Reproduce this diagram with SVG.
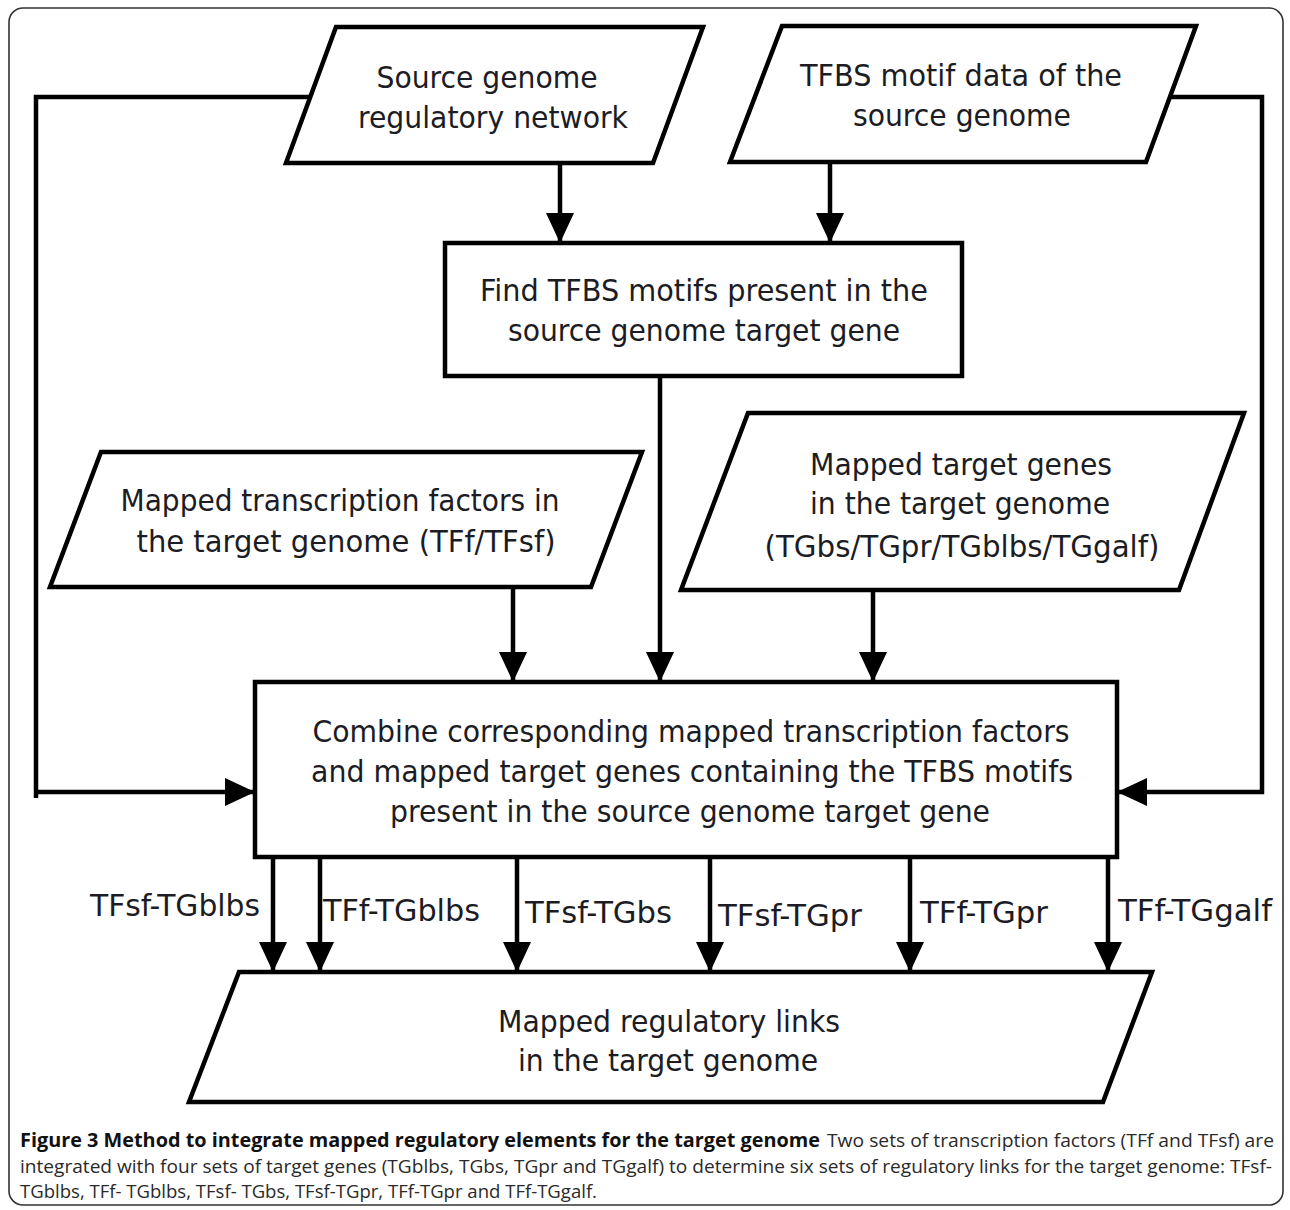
<svg xmlns="http://www.w3.org/2000/svg" width="1290" height="1210" viewBox="0 0 1290 1210">
<defs>
<style>
.shape{fill:#ffffff;stroke:#000;stroke-width:4.5;stroke-linejoin:miter}
.conn{fill:none;stroke:#000;stroke-width:4.5}
.t{font-family:"DejaVu Sans Condensed","DejaVu Sans",sans-serif;font-size:31px;fill:#1c1c24;text-anchor:middle}
.lbl{font-family:"DejaVu Sans Condensed","DejaVu Sans",sans-serif;font-size:31px;fill:#1c1c24}
.cap{font-family:"Open Sans","Liberation Sans",sans-serif;font-size:19px;fill:#2a2a2a}
.capb{font-family:"Open Sans","Liberation Sans",sans-serif;font-size:19px;font-weight:bold;fill:#111}
</style>
<marker id="ah" markerUnits="userSpaceOnUse" markerWidth="32" markerHeight="30" refX="30" refY="14" orient="auto">
<path d="M0,0 L30,14 L0,28 Z" fill="#000"/>
</marker>
</defs>
<rect x="9" y="8" width="1274" height="1197" rx="14" ry="14" fill="#fff" stroke="#333" stroke-width="1.6"/>

<g id="connectors">
<line class="conn" x1="560" y1="163" x2="560" y2="243" marker-end="url(#ah)"/>
<line class="conn" x1="830" y1="162" x2="830" y2="243" marker-end="url(#ah)"/>
<line class="conn" x1="660" y1="376" x2="660" y2="682" marker-end="url(#ah)"/>
<line class="conn" x1="513" y1="587" x2="513" y2="682" marker-end="url(#ah)"/>
<line class="conn" x1="873" y1="590" x2="873" y2="682" marker-end="url(#ah)"/>
<polyline class="conn" points="310,97 36,97 36,798"/>
<line class="conn" x1="34" y1="792" x2="255" y2="792" marker-end="url(#ah)"/>
<polyline class="conn" points="1170,97 1262,97 1262,792 1117,792" marker-end="url(#ah)"/>
<line class="conn" x1="273" y1="855" x2="273" y2="972" marker-end="url(#ah)"/>
<line class="conn" x1="320" y1="855" x2="320" y2="972" marker-end="url(#ah)"/>
<line class="conn" x1="517" y1="855" x2="517" y2="972" marker-end="url(#ah)"/>
<line class="conn" x1="710" y1="855" x2="710" y2="972" marker-end="url(#ah)"/>
<line class="conn" x1="910" y1="855" x2="910" y2="972" marker-end="url(#ah)"/>
<line class="conn" x1="1108" y1="855" x2="1108" y2="972" marker-end="url(#ah)"/>
<text class="lbl" x="90" y="916" textLength="170" lengthAdjust="spacingAndGlyphs">TFsf-TGblbs</text>
<text class="lbl" x="323" y="921" textLength="157" lengthAdjust="spacingAndGlyphs">TFf-TGblbs</text>
<text class="lbl" x="525" y="923" textLength="147" lengthAdjust="spacingAndGlyphs">TFsf-TGbs</text>
<text class="lbl" x="718" y="926" textLength="144" lengthAdjust="spacingAndGlyphs">TFsf-TGpr</text>
<text class="lbl" x="920" y="923" textLength="128" lengthAdjust="spacingAndGlyphs">TFf-TGpr</text>
<text class="lbl" x="1118" y="921" textLength="154" lengthAdjust="spacingAndGlyphs">TFf-TGgalf</text>
</g>

<g id="source-network">
<polygon class="shape" points="336,27 703,27 653,163 286,163"/>
<text class="t" x="487" y="88" textLength="221" lengthAdjust="spacingAndGlyphs">Source genome</text>
<text class="t" x="493" y="128" textLength="270" lengthAdjust="spacingAndGlyphs">regulatory network</text>
</g>

<g id="tfbs-motif-data">
<polygon class="shape" points="782,26 1196,26 1146,162 730,162"/>
<text class="t" x="961" y="86" textLength="322" lengthAdjust="spacingAndGlyphs">TFBS motif data of the</text>
<text class="t" x="962" y="126" textLength="218" lengthAdjust="spacingAndGlyphs">source genome</text>
</g>

<g id="find-motifs">
<rect class="shape" x="445" y="243" width="517" height="133"/>
<text class="t" x="704" y="301" textLength="448" lengthAdjust="spacingAndGlyphs">Find TFBS motifs present in the</text>
<text class="t" x="704" y="341" textLength="392" lengthAdjust="spacingAndGlyphs">source genome target gene</text>
</g>

<g id="mapped-tf">
<polygon class="shape" points="101,452 642,452 591,587 50,587"/>
<text class="t" x="340" y="511" textLength="439" lengthAdjust="spacingAndGlyphs">Mapped transcription factors in</text>
<text class="t" x="346" y="552" textLength="419" lengthAdjust="spacingAndGlyphs">the target genome (TFf/TFsf)</text>
</g>

<g id="mapped-tg">
<polygon class="shape" points="748,413 1244,413 1179,590 681,590"/>
<text class="t" x="961" y="475" textLength="302" lengthAdjust="spacingAndGlyphs">Mapped target genes</text>
<text class="t" x="960" y="514" textLength="300" lengthAdjust="spacingAndGlyphs">in the target genome</text>
<text class="t" x="962" y="557" textLength="395" lengthAdjust="spacingAndGlyphs">(TGbs/TGpr/TGblbs/TGgalf)</text>
</g>

<g id="combine">
<rect class="shape" x="255" y="682" width="862" height="175"/>
<text class="t" x="691" y="742" textLength="757" lengthAdjust="spacingAndGlyphs">Combine corresponding mapped transcription factors</text>
<text class="t" x="692" y="782" textLength="762" lengthAdjust="spacingAndGlyphs">and mapped target genes containing the TFBS motifs</text>
<text class="t" x="690" y="822" textLength="600" lengthAdjust="spacingAndGlyphs">present in the source genome target gene</text>
</g>

<g id="mapped-links">
<polygon class="shape" points="239,972 1152,972 1103,1102 189,1102"/>
<text class="t" x="669" y="1032" textLength="342" lengthAdjust="spacingAndGlyphs">Mapped regulatory links</text>
<text class="t" x="668" y="1071" textLength="300" lengthAdjust="spacingAndGlyphs">in the target genome</text>
</g>

<g id="caption">
<text class="capb" x="20" y="1147" textLength="800" lengthAdjust="spacingAndGlyphs">Figure 3 Method to integrate mapped regulatory elements for the target genome</text>
<text class="cap" x="827" y="1147" textLength="447" lengthAdjust="spacingAndGlyphs">Two sets of transcription factors (TFf and TFsf) are</text>
<text class="cap" x="20" y="1173" textLength="1252" lengthAdjust="spacingAndGlyphs">integrated with four sets of target genes (TGblbs, TGbs, TGpr and TGgalf) to determine six sets of regulatory links for the target genome: TFsf-</text>
<text class="cap" x="20" y="1198" textLength="577" lengthAdjust="spacingAndGlyphs">TGblbs, TFf- TGblbs, TFsf- TGbs, TFsf-TGpr, TFf-TGpr and TFf-TGgalf.</text>
</g>
</svg>
